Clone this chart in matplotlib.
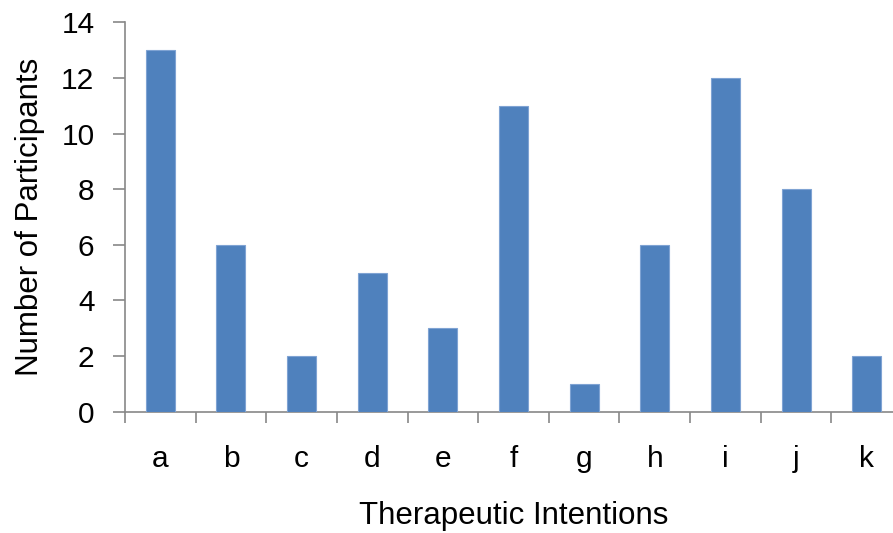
import matplotlib
matplotlib.use("Agg")
import matplotlib.pyplot as plt
import numpy as np

categories = ["a", "b", "c", "d", "e", "f", "g", "h", "i", "j", "k"]
values = [13, 6, 2, 5, 3, 11, 1, 6, 12, 8, 2]

plt.rcParams['font.family'] = ['Liberation Sans', 'DejaVu Sans']

fig = plt.figure(figsize=(8.93, 5.33), dpi=100)
ax = fig.add_axes([125/893, (533-411.7)/533, 777/893, 389.4/533])
x = np.arange(len(categories))
ax.bar(x, values, width=0.41, color='#4F81BD', edgecolor='#7FA3D3', linewidth=0.8, zorder=3)
ax.set_xlim(-0.5, len(categories) - 0.5)
ax.set_ylim(0, 14)
ax.set_yticks(range(0, 15, 2))
ax.set_xticks(x)
ax.set_xticklabels(categories)
ax.set_xticks(np.arange(-0.5, len(categories), 1), minor=True)
ax.tick_params(axis='x', which='major', length=0, labelsize=21.5, pad=24)
ax.tick_params(axis='x', which='minor', length=8, width=1.2, color='#888888', direction='out')
ax.tick_params(axis='y', length=9, width=1.2, color='#888888', direction='out', labelsize=21.5, pad=13)
for s in ['top', 'right']:
    ax.spines[s].set_visible(False)
for s in ['left', 'bottom']:
    ax.spines[s].set_color('#888888')
    ax.spines[s].set_linewidth(1.2)
ax.set_ylabel("Number of Participants", fontsize=22.5, labelpad=12)
ax.set_xlabel("Therapeutic Intentions", fontsize=22.5, labelpad=20)
fig.savefig("out.png", dpi=100)
